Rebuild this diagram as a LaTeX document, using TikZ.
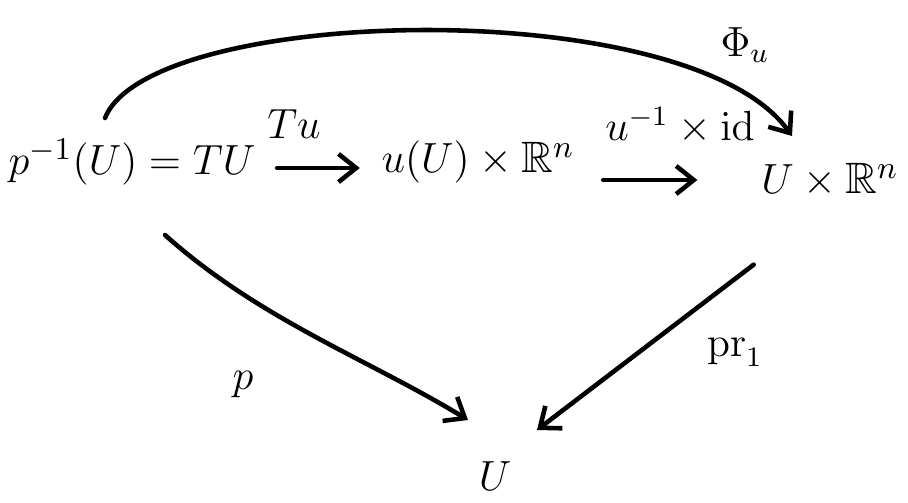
\documentclass[tikz,border=0pt]{standalone}
\usepackage{amsmath,amssymb}
\usepackage{tikz}
\usetikzlibrary{positioning,arrows.meta}

\begin{document}
\begin{tikzpicture}[
    x=0.01cm, y=-0.01cm,
    obj/.style={inner sep=2pt, font=\fontsize{12.5}{15}\selectfont},
    map/.style={-{Straight Barb[length=5pt,width=8pt]}, line width=1.3pt, line cap=round},
    lbl/.style={font=\fontsize{12}{14}\selectfont}
]
\useasboundingbox (0,0) rectangle (908,503);

% Objects
\node[obj] (TU) at (132,162) {$p^{-1}(U)=TU$};
\node[obj] (uU) at (478,162) {$u(U)\times\mathbb{R}^n$};
\node[obj] (UR) at (830,180) {$U\times\mathbb{R}^n$};
\node[obj] (U) at (495,476) {$U$};

% Horizontal maps
\draw[map, shorten <=4pt, shorten >=4pt] (TU.east) ++(0,6) -- (uU.west |- 0,168);
\draw[map, shorten <=6pt, shorten >=16pt] (uU.east |- UR.west) -- (UR.west);
\node[lbl] (Tulbl) at (294,124) {$Tu$};
\node[lbl] (idlbl) at (680,126) {$u^{-1}\times\mathrm{id}$};

% Top curve
\coordinate (start) at (105,118);
\coordinate (hook) at (792,136);
\draw[map] (start) .. controls (150,5) and (690,-8) .. (hook);
\node[lbl] (philbl) at (745,45) {$\Phi_u$};

% Down to U
\coordinate (pTip) at (468,420);
\coordinate (prTip) at (537,430);
\draw[map] (165,235) .. controls (260,320) and (370,360) .. (pTip);
\draw[map] (UR.south west) ++(0,60) -- (prTip);
\node[lbl] (plbl) at (243,385) {$p$};
\node[lbl] (prlbl) at (735,352) {$\mathrm{pr}_1$};

\end{tikzpicture}
\end{document}
